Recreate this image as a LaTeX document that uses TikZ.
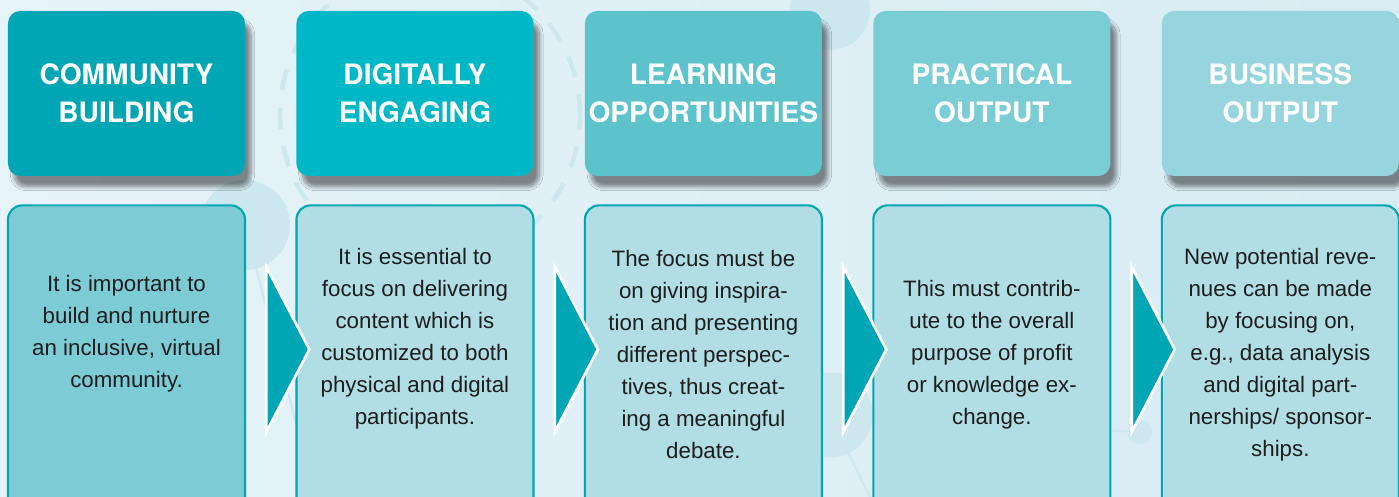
\documentclass[tikz,border=0pt]{standalone}
\usepackage{fontspec}
\setmainfont{Liberation Sans}
\newfontfamily\headfont{TeX Gyre Heros}
\usepackage{tikz}
\usepackage{xcolor}
\usetikzlibrary{positioning, calc, shapes.geometric, shadows.blur}
\definecolor{edge}{RGB}{0,166,180}
\definecolor{headA}{RGB}{0,166,180}
\definecolor{headB}{RGB}{0,184,197}
\definecolor{headC}{RGB}{92,195,204}
\definecolor{headD}{RGB}{122,205,213}
\definecolor{headE}{RGB}{150,213,221}
\definecolor{bodyA}{RGB}{125,204,213}
\definecolor{bodyB}{RGB}{177,221,228}
\definecolor{ink}{RGB}{30,30,30}
\definecolor{bgleft}{RGB}{230,243,248}
\definecolor{bgright}{RGB}{216,236,243}
\definecolor{deco}{RGB}{204,231,237}

\begin{document}
\begin{tikzpicture}[
  head/.style={
    rectangle, rounded corners=7pt, minimum width=4.74cm, minimum height=3.3cm,
    inner xsep=1pt, align=center, text=white,
    font=\headfont\bfseries\fontsize{16}{21.5}\selectfont,
    blur shadow={shadow xshift=0.12cm, shadow yshift=-0.22cm, shadow blur steps=10, shadow opacity=45}
  },
  body/.style={
    rectangle, rounded corners=8pt, draw=edge, line width=1.2pt,
    minimum width=4.74cm, minimum height=6.4cm
  },
  txt/.style={align=center, text=ink, font=\fontsize{12.7}{18.2}\selectfont},
  tri/.style={
    isosceles triangle, isosceles triangle stretches, fill=edge, draw=white,
    line width=1.5pt, minimum width=3.3cm, minimum height=0.86cm,
    inner sep=0pt, anchor=west
  }
]
\useasboundingbox (0,0) rectangle (27.98,-9.94);
\shade[left color=bgleft, right color=bgright] (0,0) rectangle (27.98,-9.94);

\draw[deco, line width=2.5pt, dash pattern=on 12pt off 10pt] (8.6,-2.3) circle (3cm);
\draw[deco, line width=1.2pt] (4.9,-4.5) -- (6.3,-9.94);
\draw[deco, line width=1.2pt] (16.6,-8.3) -- (17.4,-9.94);
\draw[deco, line width=1.2pt] (12.2,-8.6) -- (16.6,-8.3) -- (22.8,-8.64);
\fill[deco] (4.9,-4.5) circle (0.9);
\fill[deco] (16.6,-0.2) circle (0.8);
\fill[deco] (16.6,-8.3) circle (0.85);
\fill[deco] (22.8,-8.64) circle (0.25);

\node[head, fill=headA] (head1) at (2.53,-1.87) {COMMUNITY\\BUILDING};
\node[head, fill=headB, right=1.015cm of head1] (head2) {DIGITALLY\\ENGAGING};
\node[head, fill=headC, right=1.015cm of head2] (head3) {LEARNING\\OPPORTUNITIES};
\node[head, fill=headD, right=1.015cm of head3] (head4) {PRACTICAL\\OUTPUT};
\node[head, fill=headE, right=1.015cm of head4] (head5) {BUSINESS\\OUTPUT};

\node[body, fill=bodyA, below=0.56cm of head1] (body1) {};
\node[body, fill=bodyB, below=0.56cm of head2] (body2) {};
\node[body, fill=bodyB, below=0.56cm of head3] (body3) {};
\node[body, fill=bodyB, below=0.56cm of head4] (body4) {};
\node[body, fill=bodyB, below=0.56cm of head5] (body5) {};

\node[txt] (text1) at ($(body1.north)+(0,-2.58)$) {It is important to\\build and nurture\\an inclusive, virtual\\community.};
\node[txt] (text2) at ($(body2.north)+(0,-2.68)$) {It is essential to\\focus on delivering\\content which is\\customized to both\\physical and digital\\participants.};
\node[txt] (text3) at ($(body3.north)+(0,-3.0)$) {The focus must be\\on giving inspira-\\tion and presenting\\different perspec-\\tives, thus creat-\\ing a meaningful\\debate.};
\node[txt] (text4) at ($(body4.north)+(0,-3.0)$) {This must contrib-\\ute to the overall\\purpose of profit\\or knowledge ex-\\change.};
\node[txt] (text5) at ($(body5.north)+(0,-3.0)$) {New potential reve-\\nues can be made\\by focusing on,\\e.g., data analysis\\and digital part-\\nerships/ sponsor-\\ships.};

\node[tri] (arrow1) at ($(body1.east)+(0.38,0.32)$) {};
\node[tri] (arrow2) at ($(body2.east)+(0.38,0.32)$) {};
\node[tri] (arrow3) at ($(body3.east)+(0.38,0.32)$) {};
\node[tri] (arrow4) at ($(body4.east)+(0.38,0.32)$) {};

\end{tikzpicture}
\end{document}
